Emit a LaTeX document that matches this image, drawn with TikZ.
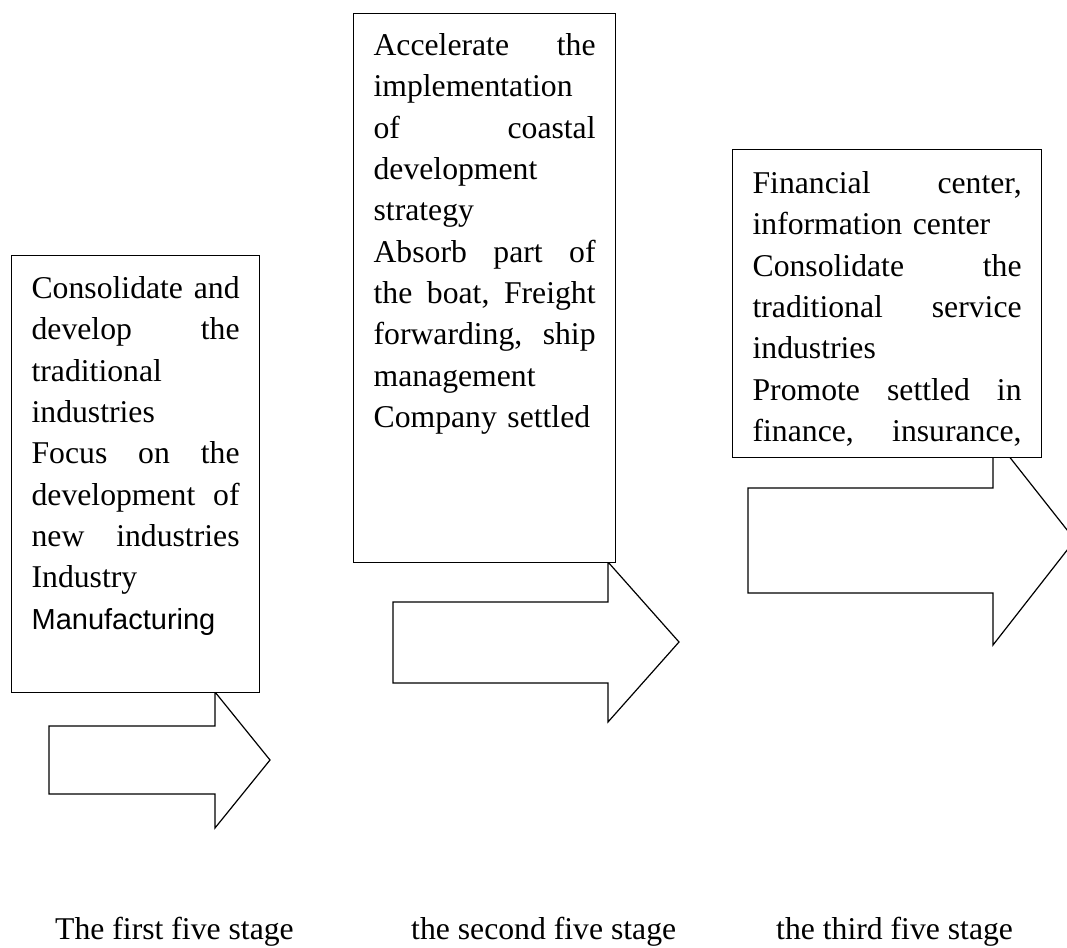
\documentclass[tikz,border=0pt]{standalone}
\usepackage{fontspec}
\setmainfont{Liberation Serif}
\setsansfont{Liberation Sans}

\begin{document}
\begin{tikzpicture}[x=1pt, y=-1pt,
        stagebox/.style={draw, fill=white, line width=1.2pt, anchor=north west,
            inner xsep=20pt, inner ysep=0pt, align=left,
            font=\fontsize{31.7}{41.3}\selectfont},
        stagearrow/.style={draw, fill=white, line width=1.2pt, line join=miter},
        stagelabel/.style={anchor=base west, inner sep=0pt,
            font=\fontsize{31.7}{38}\selectfont}]
                \useasboundingbox (0, 0) rectangle (1067, 947);
                \clip (0, 0) rectangle (1067, 947);
                % arrows first, the boxes lie over them
                \draw[stagearrow] (49, 726) -- (215, 726) -- (215, 692) -- (270, 760)
                    -- (215, 828) -- (215, 794) -- (49, 794) -- cycle;
                \draw[stagearrow] (393, 602) -- (608, 602) -- (608, 562) -- (679, 642)
                    -- (608, 722) -- (608, 683) -- (393, 683) -- cycle;
                \draw[stagearrow] (748, 488) -- (993, 488) -- (993, 436) -- (1075, 540)
                    -- (993, 645) -- (993, 593) -- (748, 593) -- cycle;
                \node[stagebox, text width=208pt, text height=43pt, text depth=394pt]
                    (first) at (11, 255) {Consolidate\hfill and\\
                    develop\hfill the\\
                    traditional\\
                    industries\\
                    Focus\hfill on\hfill the\\
                    development\hfill of\\
                    new\hfill industries\\
                    Industry\\
                    {\sffamily\fontsize{29}{41.3}\selectfont Manufacturing}};
                \node[stagebox, text width=222pt, text height=42pt, text depth=507pt]
                    (second) at (353, 13) {Accelerate\hfill the\\
                    implementation\\
                    of\hfill coastal\\
                    development\\
                    strategy\\
                    Absorb\hfill part\hfill of\\
                    the\hfill boat,\hfill Freight\\
                    forwarding,\hfill ship\\
                    management\\
                    Company settled};
                \node[stagebox, text width=269pt, text height=44pt, text depth=264pt]
                    (third) at (732, 149) {Financial\hfill center,\\
                    information center\\
                    Consolidate\hfill the\\
                    traditional\hfill service\\
                    industries\\
                    Promote\hfill settled\hfill in\\
                    finance,\hfill insurance,};
                \node[stagelabel] (firstlabel) at (55, 939) {The first five stage};
                \node[stagelabel] (secondlabel) at (411, 939) {the second five stage};
                \node[stagelabel] (thirdlabel) at (776, 939) {the third five stage};
            \end{tikzpicture}
\end{document}
